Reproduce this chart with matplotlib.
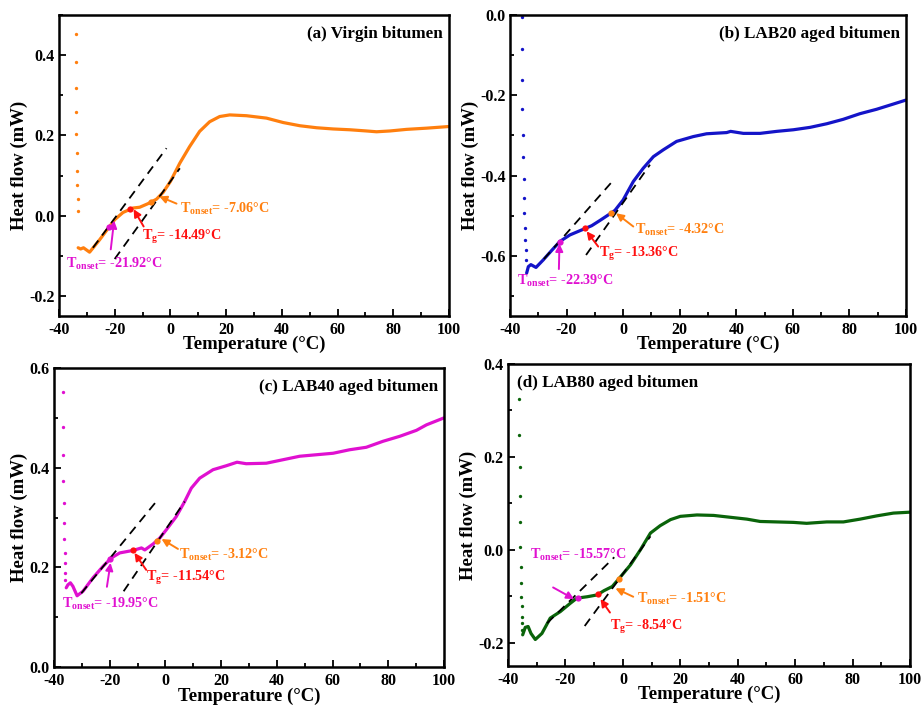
import numpy as np
import matplotlib
matplotlib.use('Agg')
import matplotlib.pyplot as plt
from matplotlib.ticker import MultipleLocator, FormatStrFormatter

plt.rcParams['font.family'] = ['Liberation Serif', 'DejaVu Serif']
plt.rcParams['font.weight'] = 'bold'
plt.rcParams['axes.unicode_minus'] = False
plt.rcParams['mathtext.fontset'] = 'custom'
plt.rcParams['mathtext.rm'] = 'Liberation Serif:bold'
plt.rcParams['mathtext.bf'] = 'Liberation Serif:bold'

# (a) virgin bitumen
spike_a_t = [-33.9, -33.9, -33.8, -33.8, -33.7, -33.6, -33.5, -33.4, -33.3, -33.2]
spike_a_q = [0.452, 0.382, 0.317, 0.258, 0.203, 0.155, 0.111, 0.076, 0.042, 0.012]
temp_a = [-33.1, -32.2, -31.2, -29.0, -25.4, -20.0, -17.0, -13.4, -11.0, -8.0, -5.0, -2.6, 0.0,
          3.4, 6.9, 10.5, 14.1, 17.7, 21.3, 27.3, 34.5, 40.5, 46.5, 52.5, 58.4, 64.4, 70.4,
          74.0, 78.8, 84.8, 92.0, 99.8]
flow_a = [-0.080, -0.083, -0.080, -0.091, -0.060, -0.010, 0.008, 0.019, 0.021, 0.030, 0.041,
          0.058, 0.085, 0.131, 0.172, 0.210, 0.234, 0.247, 0.251, 0.249, 0.243, 0.232, 0.224,
          0.219, 0.216, 0.214, 0.211, 0.209, 0.211, 0.215, 0.218, 0.222]
tan1_a = ([-27.8, -1.4], [-0.080, 0.168])
tan2_a = ([-20.0, 3.4], [-0.108, 0.118])
points_a = [-21.92, -14.49, -7.06]  # Tonset1, Tg, Tonset2

# (b) LAB20 aged bitumen
spike_b_t = [-35.9, -35.8, -35.7, -35.6, -35.4, -35.3, -35.1, -35.0, -34.9, -34.7, -34.6, -34.5, -34.3]
spike_b_q = [-0.004, -0.085, -0.162, -0.235, -0.300, -0.355, -0.408, -0.455, -0.494, -0.531,
             -0.560, -0.585, -0.610]
temp_b = [-34.1, -33.5, -32.6, -30.8, -28.2, -25.3, -22.3, -18.8, -14.1, -11.1, -8.2, -5.2, -2.9,
          0.0, 3.6, 7.1, 10.7, 14.2, 18.9, 24.8, 29.5, 36.6, 38.0, 42.5, 48.4, 54.3, 60.2, 66.1,
          72.0, 77.8, 83.7, 89.6, 95.5, 100.0]
flow_b = [-0.643, -0.627, -0.622, -0.629, -0.610, -0.587, -0.564, -0.548, -0.534, -0.525, -0.512,
          -0.498, -0.487, -0.461, -0.415, -0.382, -0.353, -0.336, -0.315, -0.303, -0.296, -0.293,
          -0.290, -0.295, -0.295, -0.290, -0.286, -0.280, -0.271, -0.260, -0.246, -0.235, -0.222,
          -0.212]
tan1_b = ([-28.0, -4.1], [-0.608, -0.417])
tan2_b = ([-13.1, 9.5], [-0.598, -0.373])
points_b = [-22.39, -13.36, -4.32]

# (c) LAB40 aged bitumen
spike_c_t = [-36.8, -36.8, -36.7, -36.6, -36.5, -36.4, -36.3, -36.2, -36.1, -36.0, -35.9]
spike_c_q = [0.551, 0.482, 0.426, 0.374, 0.329, 0.290, 0.256, 0.229, 0.209, 0.189, 0.175]
temp_c = [-35.6, -35.0, -34.1, -33.2, -31.7, -29.6, -26.0, -22.4, -19.4, -16.4, -11.6, -8.6,
          -7.4, -4.4, -2.0, 0.4, 3.9, 6.9, 9.3, 12.3, 17.1, 21.9, 25.7, 29.0, 36.2, 42.2, 48.2,
          54.2, 60.2, 66.1, 72.1, 78.1, 84.1, 90.1, 93.7, 100.0]
flow_c = [0.159, 0.165, 0.169, 0.162, 0.143, 0.152, 0.179, 0.202, 0.219, 0.229, 0.234, 0.239,
          0.235, 0.247, 0.259, 0.276, 0.302, 0.332, 0.359, 0.379, 0.396, 0.404, 0.411, 0.408,
          0.409, 0.416, 0.423, 0.426, 0.429, 0.436, 0.441, 0.453, 0.463, 0.475, 0.486, 0.500]
tan1_c = ([-30.2, -3.0], [0.148, 0.334])
tan2_c = ([-15.0, 6.9], [0.152, 0.332])
points_c = [-19.95, -11.54, -3.12]

# (d) LAB80 aged bitumen
spike_d_t = [-36.1, -36.1, -36.0, -35.9, -35.8, -35.7, -35.6, -35.5, -35.4, -35.3, -35.2, -35.1, -35.0]
spike_d_q = [0.324, 0.248, 0.178, 0.116, 0.059, 0.007, -0.036, -0.072, -0.101, -0.122, -0.144,
             -0.158, -0.173]
temp_d = [-34.9, -34.0, -33.0, -32.0, -30.5, -28.2, -25.3, -21.8, -18.3, -16.0, -12.4, -8.9,
          -6.6, -3.7, -0.8, 2.7, 6.1, 9.6, 13.0, 16.6, 20.0, 25.8, 31.6, 37.4, 43.2, 47.8, 53.6,
          59.4, 64.0, 71.0, 76.8, 82.6, 88.4, 94.2, 100.0]
flow_d = [-0.183, -0.167, -0.165, -0.180, -0.193, -0.180, -0.147, -0.133, -0.115, -0.104, -0.101,
          -0.097, -0.088, -0.079, -0.058, -0.032, 0.000, 0.036, 0.052, 0.065, 0.072, 0.075, 0.074,
          0.070, 0.066, 0.061, 0.060, 0.059, 0.057, 0.060, 0.060, 0.066, 0.073, 0.079, 0.081]
tan1_d = ([-26.4, -3.0], [-0.158, -0.016])
tan2_d = ([-13.3, 9.6], [-0.164, 0.029])
points_d = [-15.57, -8.54, -1.51]

MAGENTA = '#e010d0'
RED = '#ff1010'
ORANGE = '#ff8010'


def label_onset(v):
    return r'T$_{\rm onset}$' + '= %.2f°C' % v


def label_g(v):
    return r'T$_{\rm g}$' + '= %.2f°C' % v


def draw_panel(ax, temp, flow, spike_t, spike_q, tan1, tan2, points, color,
               ylim, yticks, title, title_loc, arrows, texts):
    ax.plot(spike_t, spike_q, ls='none', marker='o', ms=2.4, color=color, mec='none')
    ax.plot(temp, flow, color=color, lw=2.3, solid_capstyle='round', solid_joinstyle='round')
    for tx, ty in (tan1, tan2):
        ax.plot(tx, ty, color='black', lw=1.3, dashes=(5, 3.5))
    # characteristic points sit on the curve at the reported temperatures
    for t, c in zip(points, [MAGENTA, RED, ORANGE]):
        ax.plot(t, np.interp(t, temp, flow), 'o', color=c, ms=4.5, mec='none', zorder=5)
    labels = [label_onset(points[0]), label_g(points[1]), label_onset(points[2])]
    for (tail, head), tpos, lab, c in zip(arrows, texts, labels, [MAGENTA, RED, ORANGE]):
        ax.annotate('', xy=head, xytext=tail,
                    arrowprops=dict(arrowstyle='-|>', color=c, lw=1.4, mutation_scale=11,
                                    shrinkA=0, shrinkB=0))
        ax.text(tpos[0], tpos[1], lab, color=c, fontsize=10.2, fontweight='bold',
                ha='left', va='center')
    ax.set_xlim(-40, 100)
    ax.set_ylim(*ylim)
    ax.set_yticks(yticks)
    ax.xaxis.set_major_locator(MultipleLocator(20))
    ax.xaxis.set_minor_locator(MultipleLocator(10))
    ax.yaxis.set_minor_locator(MultipleLocator(0.1))
    ax.yaxis.set_major_formatter(FormatStrFormatter('%.1f'))
    ax.tick_params(which='both', direction='in', top=False, right=False, labelsize=11.5)
    ax.tick_params(axis='x', pad=4)
    ax.tick_params(axis='y', pad=3)
    ax.tick_params(which='major', length=5, width=1.3)
    ax.tick_params(which='minor', length=3, width=1.3)
    for lab in ax.get_xticklabels() + ax.get_yticklabels():
        lab.set_fontweight('bold')
    for sp in ax.spines.values():
        sp.set_linewidth(1.8)
    ax.set_xlabel('Temperature (°C)', fontsize=13.5, fontweight='bold', labelpad=-1)
    ax.set_ylabel('Heat flow (mW)', fontsize=13.5, fontweight='bold', labelpad=1)
    if title_loc == 'right':
        ax.text(0.985, 0.965, title, transform=ax.transAxes, ha='right', va='top',
                fontsize=12.3, fontweight='bold')
    else:
        ax.text(0.022, 0.965, title, transform=ax.transAxes, ha='left', va='top',
                fontsize=12.3, fontweight='bold')


fig = plt.figure(figsize=(9.21, 7.06), dpi=100)
ax_a = fig.add_axes([0.064, 0.5524, 0.4235, 0.4264])
ax_b = fig.add_axes([0.5537, 0.5524, 0.430, 0.4264])
ax_c = fig.add_axes([0.0586, 0.0552, 0.4235, 0.4235])
ax_d = fig.add_axes([0.5516, 0.0567, 0.4365, 0.4278])

draw_panel(ax_a, temp_a, flow_a, spike_a_t, spike_a_q, tan1_a, tan2_a, points_a, '#ff7f0e',
           (-0.25, 0.5), [-0.2, 0.0, 0.2, 0.4], '(a) Virgin bitumen', 'right',
           [((-21.4, -0.084), (-20.2, -0.012)), ((-9.6, -0.027), (-13.2, 0.016)),
            ((2.2, 0.030), (-4.0, 0.048))],
           [(-37.5, -0.121), (-10.2, -0.052), (3.4, 0.016)])
draw_panel(ax_b, temp_b, flow_b, spike_b_t, spike_b_q, tan1_b, tan2_b, points_b, '#1414c8',
           (-0.75, 0.0), [-0.6, -0.4, -0.2, 0.0], '(b) LAB20 aged bitumen', 'right',
           [((-22.7, -0.633), (-22.5, -0.570)), ((-8.8, -0.577), (-12.9, -0.539)),
            ((3.6, -0.527), (-2.5, -0.494))],
           [(-37.4, -0.662), (-8.4, -0.595), (4.2, -0.535)])
draw_panel(ax_c, temp_c, flow_c, spike_c_t, spike_c_q, tan1_c, tan2_c, points_c, '#e010d0',
           (0.0, 0.6), [0.0, 0.2, 0.4, 0.6], '(c) LAB40 aged bitumen', 'right',
           [((-21.0, 0.161), (-19.7, 0.209)), ((-6.9, 0.195), (-11.1, 0.229)),
            ((4.5, 0.237), (-1.4, 0.257))],
           [(-37.0, 0.127), (-6.9, 0.179), (4.9, 0.225)])
draw_panel(ax_d, temp_d, flow_d, spike_d_t, spike_d_q, tan1_d, tan2_d, points_d, '#0a640a',
           (-0.25, 0.4), [-0.2, 0.0, 0.2, 0.4], '(d) LAB80 aged bitumen', 'left',
           [((-24.3, -0.081), (-17.0, -0.106)), ((-4.5, -0.135), (-7.8, -0.106)),
            ((3.6, -0.101), (-2.6, -0.083))],
           [(-32.5, -0.011), (-4.5, -0.165), (4.8, -0.106)])

fig.savefig('out.png', dpi=100)
